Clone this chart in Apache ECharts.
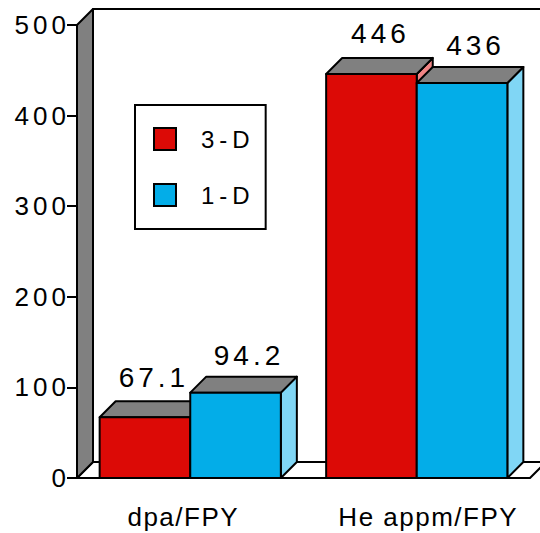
<!DOCTYPE html>
<html><head><meta charset="utf-8">
<script src="https://cdn.jsdelivr.net/npm/echarts@6/dist/echarts.min.js"></script>
<style>html,body{margin:0;padding:0;background:#fff}#main{width:540px;height:533px}</style>
</head><body><div id="main"></div>
<script>
const categories = ['dpa/FPY', 'He appm/FPY'];
const seriesNames = ['3-D', '1-D'];
const values3D = [67.1, 446];
const values1D = [94.2, 436];
const yTicks = [0, 100, 200, 300, 400, 500];

const DEPTH = 16;
const FONT = '"Liberation Sans", Arial, Helvetica, sans-serif';
const styles = {
  '3-D': {front: '#DC0A06', side: '#F08585', top: '#808080', labelDx: 9, labelGap: 10},
  '1-D': {front: '#03ADE8', side: '#80D6F5', top: '#808080', labelDx: 13.5, labelGap: 7}
};
const catLabelPad = [[0, 14, 0, 0], [0, 0, 0, 23]];

function barRenderer(name, side) {
  const st = styles[name];
  return function (params, api) {
    const cat = api.value(0), v = api.value(1);
    const base = api.coord([cat, 0]);
    const top = api.coord([cat, v]);
    const band = api.size([1, 0])[0];
    const bw = band * 0.4;
    const x0 = side < 0 ? base[0] - bw : base[0];
    const x1 = x0 + bw;
    const yb = base[1], yt = top[1], d = DEPTH;
    const ls = {stroke: '#000', lineWidth: 2, lineJoin: 'round'};
    return {type: 'group', children: [
      {type: 'polygon', shape: {points: [[x1, yt], [x1 + d, yt - d], [x1 + d, yb - d], [x1, yb]]}, style: Object.assign({fill: st.side}, ls)},
      {type: 'polygon', shape: {points: [[x0, yt], [x1, yt], [x1 + d, yt - d], [x0 + d, yt - d]]}, style: Object.assign({fill: st.top}, ls)},
      {type: 'rect', shape: {x: x0, y: yt, width: bw, height: yb - yt}, style: Object.assign({fill: st.front}, ls)},
      {type: 'text', style: {text: String(v), x: (x0 + x1) / 2 + st.labelDx, y: yt - d - st.labelGap, align: 'center', verticalAlign: 'bottom', fill: '#000', font: '28px ' + FONT}}
    ]};
  };
}

function frameRenderer(params, api) {
  const cs = params.coordSys;
  const x = cs.x, y = cs.y, w = cs.width, h = cs.height, d = DEPTH;
  const ls = {stroke: '#000', lineWidth: 2, lineJoin: 'round'};
  return {type: 'group', children: [
    {type: 'rect', shape: {x: x + d, y: y - d, width: w, height: h}, style: Object.assign({fill: '#fff'}, ls)},
    {type: 'polygon', shape: {points: [[x, y + h], [x + w, y + h], [x + w + d, y + h - d], [x + d, y + h - d]]}, style: Object.assign({fill: '#fff'}, ls)},
    {type: 'polygon', shape: {points: [[x, y], [x + d, y - d], [x + d, y + h - d], [x, y + h]]}, style: Object.assign({fill: '#808080'}, ls)}
  ]};
}

const chart = echarts.init(document.getElementById('main'), null, {renderer: 'svg'});
chart.setOption({
  animation: false,
  backgroundColor: '#fff',
  grid: {left: 77, right: 10, top: 25, bottom: 55, containLabel: false},
  xAxis: {
    type: 'category',
    data: categories.map((c, i) => ({value: c, textStyle: {padding: catLabelPad[i]}})),
    axisLine: {show: false}, axisTick: {show: false}, splitLine: {show: false},
    axisLabel: {fontSize: 26, fontFamily: FONT, color: '#000', margin: 26}
  },
  yAxis: {
    type: 'value', min: yTicks[0], max: yTicks[yTicks.length - 1], interval: yTicks[1] - yTicks[0],
    axisLine: {show: false}, splitLine: {show: false},
    axisTick: {show: true, length: 10, lineStyle: {color: '#000', width: 2}},
    axisLabel: {fontSize: 26, fontFamily: FONT, color: '#000', margin: 7}
  },
  legend: {
    data: seriesNames, orient: 'vertical', left: 135, top: 105, icon: 'rect',
    itemWidth: 22, itemHeight: 22, itemGap: 32, padding: [22, 26, 22, 18],
    backgroundColor: '#fff', borderColor: '#000', borderWidth: 2, borderRadius: 0,
    selectedMode: false,
    textStyle: {fontSize: 24, fontFamily: FONT, color: '#000', padding: [0, 0, 0, 20]},
    itemStyle: {borderColor: '#000', borderWidth: 2}
  },
  series: [
    {type: 'custom', name: 'frame', renderItem: frameRenderer, data: [[0, 0]], z: 1, silent: true},
    {type: 'custom', name: seriesNames[0], renderItem: barRenderer(seriesNames[0], -1),
     itemStyle: {color: styles['3-D'].front, borderColor: '#000', borderWidth: 2},
     data: values3D.map((v, i) => [i, v]), z: 2},
    {type: 'custom', name: seriesNames[1], renderItem: barRenderer(seriesNames[1], 1),
     itemStyle: {color: styles['1-D'].front, borderColor: '#000', borderWidth: 2},
     data: values1D.map((v, i) => [i, v]), z: 3}
  ]
});

function applySpacing() {
  document.querySelectorAll('#main text').forEach(t => {
    const s = t.textContent;
    let sp = '4px';
    if (categories.includes(s)) sp = '1.5px';
    else if (seriesNames.includes(s)) sp = '5px';
    t.style.letterSpacing = sp;
  });
}
chart.on('finished', applySpacing);
applySpacing();
</script>
</body></html>
